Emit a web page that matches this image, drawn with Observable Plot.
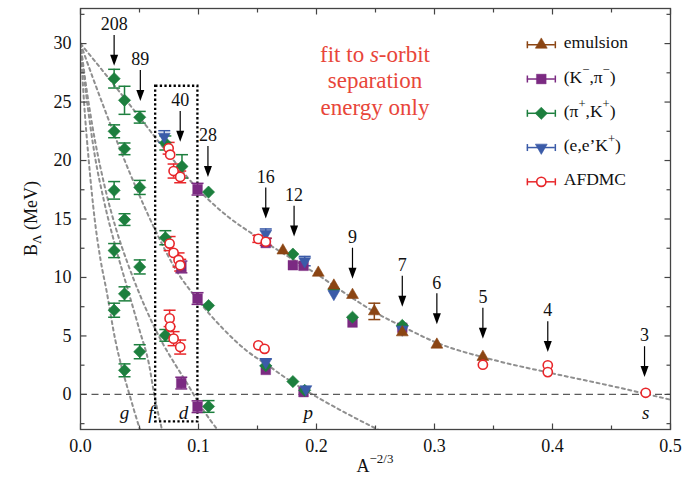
<!DOCTYPE html>
<html><head><meta charset="utf-8">
<script src="https://cdn.jsdelivr.net/npm/d3@7"></script>
<script src="https://cdn.jsdelivr.net/npm/@observablehq/plot@0.6"></script>
<style>
body{margin:0;background:#fff;}
#chart{width:684px;height:483px;}
</style></head><body><div id="chart"></div>
<script>
// Lambda separation energies B_Λ versus A^(-2/3)

// emulsion data
const emulsionX   = [0.1715, 0.2015, 0.2147, 0.2305, 0.249, 0.2727, 0.302, 0.341];
const emulsionB   = [12.3, 10.4, 9.3, 8.5, 7.1, 5.3, 4.25, 3.2];
const emulsionErr = [0, 0, 0, 0, 0.7, 0, 0, 0];

// (K-,pi-) data
const kpiX   = [0.0992, 0.0992, 0.0992, 0.0854, 0.0855, 0.157, 0.157, 0.180, 0.189, 0.189, 0.2305, 0.2727];
const kpiB   = [17.55, 8.2, -1.05, 0.97, 10.9, 12.95, 2.1, 11.05, 11.0, 0.2, 6.15, 5.7];
const kpiErr = [0.5, 0.5, 0.5, 0.5, 0.5, 0, 0, 0, 0, 0, 0, 0];

// (pi+,K+) data
const pikX = [0.0285, 0.0285, 0.0285, 0.0285, 0.0285,
              0.0373, 0.0373, 0.0373, 0.0373, 0.0373,
              0.0502, 0.0502, 0.0502, 0.0502,
              0.0719, 0.0719, 0.0719, 0.086,
              0.1085, 0.1085, 0.1085, 0.157, 0.180, 0.180, 0.190, 0.2147, 0.2305, 0.2727];
const pikB = [27.0, 22.5, 17.45, 12.3, 7.2,
              25.15, 21.0, 14.95, 8.6, 2.06,
              23.7, 17.7, 10.9, 3.65,
              21.5, 13.4, 5.05, 19.5,
              17.3, 7.6, -1.03, 2.45, 12.0, 1.1, 0.35, 9.0, 6.6, 5.9];
const pikErr = [0.8, 0.55, 0.75, 0.6, 0.6,
                1.2, 0.5, 0.5, 0.6, 0.55,
                0.5, 0.6, 0.6, 0.6,
                0.6, 0.6, 0.5, 1.0,
                0, 0, 0.5, 0, 0, 0, 0, 0, 0, 0];

// (e,e'K+) data
const eekX   = [0.071, 0.157, 0.157, 0.190, 0.191, 0.2147, 0.2727];
const eekB   = [22.05, 13.75, 2.75, 11.4, 0.45, 8.6, 5.55];
const eekErr = [0.5, 0.4, 0.3, 0.4, 0, 0, 0];

// AFDMC results
const afdmcX   = [0.0747, 0.076, 0.0789, 0.0845, 0.0755, 0.0789, 0.0831, 0.0845,
                  0.0755, 0.076, 0.0789, 0.0845, 0.1507, 0.157, 0.1507, 0.156,
                  0.341, 0.396, 0.396, 0.479];
const afdmcB   = [21.05, 20.5, 19.1, 18.6, 12.9, 12.1, 11.5, 11.05,
                  6.5, 5.8, 4.77, 4.05, 13.3, 13.05, 4.2, 3.9,
                  2.54, 2.49, 1.91, 0.14];
const afdmcErr = [0.5, 0, 0.6, 0.5, 0.6, 0, 0.6, 0.5,
                  0.7, 0, 0.6, 0.6, 0.3, 0.3, 0, 0,
                  0, 0, 0, 0];

// single-particle fit curves (s, p, d, f, g orbits)
const curveS = [[0,30],[0.025,26.9],[0.05,23.7],[0.075,20.5],[0.1,17.5],[0.125,15.2],[0.15,13.45],[0.175,11.85],[0.2,10.3],[0.225,8.6],[0.25,7.0],[0.275,5.7],[0.3,4.5],[0.35,2.95],[0.4,1.8],[0.45,0.72],[0.5,-0.45]];
const curveP = [[0,30],[0.01,27.2],[0.02,24.5],[0.035,20.6],[0.05,17.0],[0.065,13.7],[0.08,10.8],[0.1,8.0],[0.12,5.7],[0.14,3.8],[0.16,2.4],[0.18,1.0],[0.2,-0.2],[0.225,-1.6],[0.25,-2.9],[0.26,-3.4]];
const curveD = [[0,30],[0.005,26.2],[0.01,23.0],[0.02,18.0],[0.03,14.2],[0.04,11.2],[0.05,8.6],[0.06,6.3],[0.07,4.3],[0.08,2.6],[0.09,1.0],[0.1,-0.7],[0.11,-2.2],[0.12,-3.5]];
const curveF = [[0,30],[0.005,25.5],[0.012,20.5],[0.02,16.5],[0.03,12.5],[0.04,9.0],[0.05,5.5],[0.058,2.6],[0.0625,0],[0.07,-3.4]];
const curveG = [[0,30],[0.003,25],[0.007,20],[0.012,15],[0.017,11.5],[0.022,8.9],[0.0296,4.6],[0.0347,2.4],[0.0406,0.3],[0.0507,-3.1],[0.052,-3.5]];
const orbitLabels = ["g", "f", "d", "p", "s"];
const orbitLabelX = [0.0372, 0.0597, 0.0873, 0.193, 0.479];

// mass-number arrows
const arrowA   = ["208", "89", "40", "28", "16", "12", "9", "7", "6", "5", "4", "3"];
const arrowX   = [0.0285, 0.0507, 0.0845, 0.108, 0.157, 0.181, 0.2305, 0.2727, 0.302, 0.341, 0.396, 0.478];
const arrowTip = [28.1, 25.1, 21.6, 18.6, 15.05, 13.5, 9.9, 7.5, 6.0, 4.77, 3.62, 1.48];

// axis ticks
const xMajor = [0, 0.1, 0.2, 0.3, 0.4, 0.5];
const xMinor = [0.05, 0.15, 0.25, 0.35, 0.45];
const yMajor = [0, 5, 10, 15, 20, 25, 30];
const yMinor = [-2.5, 2.5, 7.5, 12.5, 17.5, 22.5, 27.5, 32.5];

const colors = {
  "emulsion": "#8b4513",
  "kpi": "#7b2a82",
  "pik": "#1d7f3e",
  "eek": "#3b5ba8",
  "afdmc": "#e8262a"
};

const toRows = (xs, bs, es, key) => xs.map((x, i) => ({x, b: bs[i], err: es[i], key}));
const emulsion = toRows(emulsionX, emulsionB, emulsionErr, "emulsion");
const kpi = toRows(kpiX, kpiB, kpiErr, "kpi");
const pik = toRows(pikX, pikB, pikErr, "pik");
const eek = toRows(eekX, eekB, eekErr, "eek");
const afdmc = toRows(afdmcX, afdmcB, afdmcErr, "afdmc");
const allRows = [...kpi, ...pik, ...eek, ...emulsion, ...afdmc];
const errRows = allRows.filter(d => d.err > 0);

const curves = [
  ...curveS.map(([x, b]) => ({x, b, orbit: "s"})),
  ...curveP.map(([x, b]) => ({x, b, orbit: "p"})),
  ...curveD.map(([x, b]) => ({x, b, orbit: "d"})),
  ...curveF.map(([x, b]) => ({x, b, orbit: "f"})),
  ...curveG.map(([x, b]) => ({x, b, orbit: "g"}))
];

const arrows = arrowA.map((a, i) => ({a, x: arrowX[i], tip: arrowTip[i], tail: arrowTip[i] + 2.6}));

// small path symbols measured in pixels
const seg = (x0, y0, x1, y1) => ({draw(c) { c.moveTo(x0, y0); c.lineTo(x1, y1); }});
const capSym = seg(-6, 0, 6, 0);
const vcapSym = seg(0, -3.5, 0, 3.5);
const headSym = {draw(c) { c.moveTo(0, 0); c.lineTo(-4, -11); c.lineTo(4, -11); c.closePath(); }};

// legend layout (drawn inside the frame)
const legendKeys = ["emulsion", "kpi", "pik", "eek", "afdmc"];
const legendRows = legendKeys.map((key, i) => ({key, y: 29.9 - i * 2.93}));
const legX = 0.3905, legX1 = 0.3787, legX2 = 0.4024, legTextX = 0.41;

function markerMarks(rows, key, extra = {}) {
  const c = colors[key];
  if (key === "emulsion") return Plot.dot(rows, {...extra, symbol: "triangle", r: 4.4, fill: c, stroke: c, strokeWidth: 0.6});
  if (key === "kpi") return Plot.dot(rows, {...extra, symbol: "square", r: 5.5, fill: c, stroke: c, strokeWidth: 0.4});
  if (key === "pik") return Plot.dot(rows, {...extra, symbol: "diamond2", r: 5.5, fill: c, stroke: c, strokeWidth: 0.6});
  if (key === "eek") return Plot.dot(rows, {...extra, symbol: "triangle", rotate: 180, r: 4.4, fill: c, stroke: c, strokeWidth: 0.6});
  return Plot.dot(rows, {...extra, symbol: "circle", r: 4.6, fill: "white", stroke: c, strokeWidth: 1.6});
}

const plot = Plot.plot({
  width: 684,
  height: 483,
  marginLeft: 80,
  marginRight: 14,
  marginTop: 8,
  marginBottom: 54,
  style: {fontFamily: "Liberation Serif", fontSize: "18px", color: "#111", background: "white"},
  x: {domain: [0, 0.5], label: null},
  y: {domain: [-3, 33], label: null},
  marks: [
    // fit curves
    Plot.line(curves, {x: "x", y: "b", z: "orbit", curve: "monotone-x", stroke: "#8f8f8f", strokeWidth: 2, strokeDasharray: "3,3.5", clip: true}),
    Plot.ruleY([0], {stroke: "#5a5a5a", strokeWidth: 1.3, strokeDasharray: "7,4.5"}),
    // dotted box around A = 40
    Plot.rect([{x1: 0.0637, x2: 0.0995, y1: -2.35, y2: 26.35}], {x1: "x1", x2: "x2", y1: "y1", y2: "y2", fill: "none", stroke: "#000", strokeWidth: 2.3, strokeDasharray: "2.3,2.3"}),
    // error bars
    Plot.ruleX(errRows, {x: "x", y1: d => d.b - d.err, y2: d => d.b + d.err, stroke: d => colors[d.key], strokeWidth: 1.5}),
    Plot.dot(errRows, {x: "x", y: d => d.b - d.err, symbol: capSym, stroke: d => colors[d.key], fill: "none", strokeWidth: 1.5}),
    Plot.dot(errRows, {x: "x", y: d => d.b + d.err, symbol: capSym, stroke: d => colors[d.key], fill: "none", strokeWidth: 1.5}),
    // data markers
    markerMarks(kpi, "kpi", {x: "x", y: "b"}),
    markerMarks(pik, "pik", {x: "x", y: "b"}),
    markerMarks(eek, "eek", {x: "x", y: "b"}),
    markerMarks(emulsion, "emulsion", {x: "x", y: "b"}),
    markerMarks(afdmc, "afdmc", {x: "x", y: "b"}),
    // arrows and mass numbers
    Plot.ruleX(arrows, {x: "x", y1: "tail", y2: "tip", stroke: "#000", strokeWidth: 1.2, insetBottom: 6}),
    Plot.dot(arrows, {x: "x", y: "tip", symbol: headSym, fill: "#000", stroke: "none"}),
    Plot.text(arrows, {x: "x", y: "tail", text: "a", dy: -11, fontSize: 18, fill: "#111"}),
    // orbit labels
    Plot.text(orbitLabels, {x: (d, i) => orbitLabelX[i], y: -1.55, text: d => d, fontSize: 19, fontStyle: "italic", fill: "#111"}),
    // legend
    Plot.ruleY(legendRows, {y: "y", x1: legX1, x2: legX2, stroke: d => colors[d.key], strokeWidth: 1.5}),
    Plot.dot(legendRows, {x: legX1, y: "y", symbol: vcapSym, stroke: d => colors[d.key], fill: "none", strokeWidth: 1.5}),
    Plot.dot(legendRows, {x: legX2, y: "y", symbol: vcapSym, stroke: d => colors[d.key], fill: "none", strokeWidth: 1.5}),
    ...legendKeys.map((k, i) => markerMarks([legendRows[i]], k, {x: legX, y: "y"})),
    // axes with inward ticks on all four sides
    Plot.axisX({ticks: xMajor, tickSize: 0, tickPadding: 10, tickFormat: d3.format(".1f"), fontSize: 18}),
    Plot.axisY({ticks: yMajor, tickSize: 0, tickPadding: 9, fontSize: 18}),
    Plot.dot(xMajor, {x: d => d, y: -3, symbol: seg(0, 0, 0, -6), stroke: "#444", strokeWidth: 1.2}),
    Plot.dot(xMinor, {x: d => d, y: -3, symbol: seg(0, 0, 0, -4), stroke: "#444", strokeWidth: 1.2}),
    Plot.dot(xMajor, {x: d => d, y: 33, symbol: seg(0, 0, 0, 6), stroke: "#444", strokeWidth: 1.2}),
    Plot.dot(xMinor, {x: d => d, y: 33, symbol: seg(0, 0, 0, 4), stroke: "#444", strokeWidth: 1.2}),
    Plot.dot(yMajor, {x: 0, y: d => d, symbol: seg(0, 0, 6, 0), stroke: "#444", strokeWidth: 1.2}),
    Plot.dot(yMinor, {x: 0, y: d => d, symbol: seg(0, 0, 4, 0), stroke: "#444", strokeWidth: 1.2}),
    Plot.dot(yMajor, {x: 0.5, y: d => d, symbol: seg(0, 0, -6, 0), stroke: "#444", strokeWidth: 1.2}),
    Plot.dot(yMinor, {x: 0.5, y: d => d, symbol: seg(0, 0, -4, 0), stroke: "#444", strokeWidth: 1.2}),
    Plot.frame({stroke: "#444", strokeWidth: 1.3})
  ]
});

// rich text (sub/superscripts, italics) placed with the plot's scales
const sx = plot.scale("x"), sy = plot.scale("y");
const svg = d3.select(plot);
function richText(px, py, parts, {size = 17, fill = "#111", anchor = "start", rotate = 0} = {}) {
  const t = svg.append("text")
    .attr("x", px).attr("y", py)
    .attr("font-family", "Liberation Serif")
    .attr("font-size", size)
    .attr("fill", fill)
    .attr("text-anchor", anchor)
    .attr("dominant-baseline", "middle");
  if (rotate) t.attr("transform", `rotate(${rotate},${px},${py})`);
  let shift = 0;
  for (const p of parts) {
    const target = p.sup ? -0.42 * size : p.sub ? 0.3 * size : 0;
    const ts = t.append("tspan").text(p.t).attr("dy", target - shift);
    if (p.sup || p.sub) ts.attr("font-size", size * 0.72);
    if (p.it) ts.attr("font-style", "italic");
    shift = target;
  }
  return t;
}

const legendText = {
  emulsion: [{t: "emulsion"}],
  kpi: [{t: "(K"}, {t: "−", sup: true}, {t: ",π"}, {t: "−", sup: true}, {t: ")"}],
  pik: [{t: "(π"}, {t: "+", sup: true}, {t: ",K"}, {t: "+", sup: true}, {t: ")"}],
  eek: [{t: "(e,e’K"}, {t: "+", sup: true}, {t: ")"}],
  afdmc: [{t: "AFDMC"}]
};
legendRows.forEach(r => richText(sx.apply(legTextX), sy.apply(r.y), legendText[r.key], {size: 17.5}));

// note about the fit
const noteX = sx.apply(0.25);
const red = "#e8463a";
richText(noteX, sy.apply(28.8), [{t: "fit to "}, {t: "s", it: true}, {t: "-orbit"}], {size: 23, fill: red, anchor: "middle"});
richText(noteX, sy.apply(26.55), [{t: "separation"}], {size: 23, fill: red, anchor: "middle"});
richText(noteX, sy.apply(24.3), [{t: "energy only"}], {size: 23, fill: red, anchor: "middle"});

// axis titles
richText((sx.apply(0) + sx.apply(0.5)) / 2, 468, [{t: "A"}, {t: "−2/3", sup: true}], {size: 18, anchor: "middle"});
richText(33, (sy.apply(-3) + sy.apply(33)) / 2, [{t: "B"}, {t: "Λ", sub: true}, {t: " (MeV)"}], {size: 18, anchor: "middle", rotate: -90});

document.getElementById("chart").appendChild(plot);
</script></body></html>
